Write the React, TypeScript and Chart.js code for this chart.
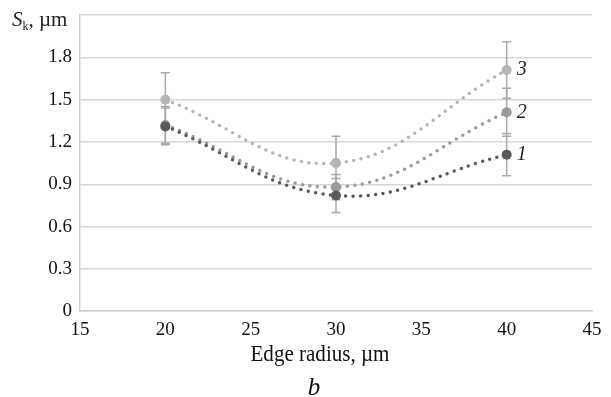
import React, { useEffect, useRef } from "react";
import { Chart, registerables } from "chart.js";

Chart.register(...registerables);

const edgeRadius = [20, 30, 40];
const series1 = [1.31, 0.82, 1.11];
const series2 = [1.32, 0.88, 1.41];
const series3 = [1.5, 1.05, 1.71];
const err1 = [0.13, 0.12, 0.15];
const err2 = [0.13, 0.09, 0.17];
const err3 = [0.19, 0.19, 0.2];
const seriesLabels = ["1", "2", "3"];
const yTicks = [0, 0.3, 0.6, 0.9, 1.2, 1.5, 1.8, 2.1];
const xTitle = "Edge radius, \u00b5m";
const panelLabel = "b";

const colors = ["#595959", "#9a9a9a", "#b5b5b5"];
const FONT = "'Liberation Serif', 'Times New Roman', serif";

export default function App() {
  const ref = useRef<HTMLCanvasElement | null>(null);

  useEffect(() => {
    document.body.style.margin = "0";
    const canvas = ref.current;
    if (!canvas) return;
    let chart: any = null;
    let cancelled = false;

    const values = [series1, series2, series3];
    const errs = [err1, err2, err3];

    const extras = {
      id: "extras",
      beforeDatasetsDraw(ch: any) {
        const ctx = ch.ctx;
        const xs = ch.scales.x;
        const ys = ch.scales.y;
        ctx.save();
        ctx.strokeStyle = "#a9a9a9";
        ctx.lineWidth = 1.5;
        values.forEach((vals, si) => {
          vals.forEach((v, i) => {
            const x = xs.getPixelForValue(edgeRadius[i]);
            const yT = ys.getPixelForValue(v + errs[si][i]);
            const yB = ys.getPixelForValue(v - errs[si][i]);
            ctx.beginPath();
            ctx.moveTo(x, yT);
            ctx.lineTo(x, yB);
            ctx.moveTo(x - 4.5, yT);
            ctx.lineTo(x + 4.5, yT);
            ctx.moveTo(x - 4.5, yB);
            ctx.lineTo(x + 4.5, yB);
            ctx.stroke();
          });
        });
        ctx.restore();
      },
      afterDraw(ch: any) {
        const ctx = ch.ctx;
        const xs = ch.scales.x;
        const ys = ch.scales.y;
        ctx.save();
        ctx.fillStyle = "#222";
        ctx.textBaseline = "middle";
        ctx.textAlign = "left";
        ctx.font = `italic 20px ${FONT}`;
        values.forEach((vals, si) => {
          const last = vals.length - 1;
          const x = xs.getPixelForValue(edgeRadius[last]) + 10;
          const y = ys.getPixelForValue(vals[last]);
          ctx.fillText(seriesLabels[si], x, y);
        });
        // y-axis title
        const baseY = 26;
        let x = 12;
        ctx.textBaseline = "alphabetic";
        ctx.font = `italic 21px ${FONT}`;
        ctx.fillText("S", x, baseY);
        x += ctx.measureText("S").width;
        ctx.font = `12px ${FONT}`;
        ctx.fillText("k", x, baseY + 4);
        x += ctx.measureText("k").width;
        ctx.font = `21px ${FONT}`;
        ctx.fillText(", \u00b5m", x, baseY);
        // x-axis title (slightly condensed) and panel label
        ctx.fillStyle = "#111";
        ctx.textAlign = "center";
        ctx.textBaseline = "alphabetic";
        ctx.font = `23px ${FONT}`;
        const w = ctx.measureText(xTitle).width;
        const sx = Math.min(1, 139 / w);
        ctx.save();
        ctx.translate(320, 361);
        ctx.scale(sx, 1);
        ctx.fillText(xTitle, 0, 0);
        ctx.restore();
        ctx.font = `italic 25px ${FONT}`;
        ctx.fillText(panelLabel, 314, 395);
        ctx.restore();
      },
    };

    const build = () => {
      if (cancelled) return;
      chart = new Chart(canvas, {
        type: "line",
        data: {
          datasets: values.map((vals, si) => ({
            label: seriesLabels[si],
            data: vals.map((v, i) => ({ x: edgeRadius[i], y: v })),
            borderColor: colors[si],
            backgroundColor: colors[si],
            borderWidth: 3.5,
            borderDash: [0, 7.5],
            borderCapStyle: "round",
            tension: 0.4,
            pointRadius: 5,
            pointBorderWidth: 0,
            pointBackgroundColor: colors[si],
            fill: false,
          })),
        },
        options: {
          animation: false,
          responsive: false,
          layout: { padding: { left: 0, right: 19, top: 15, bottom: 1 } },
          plugins: {
            legend: { display: false },
            tooltip: { enabled: false },
            title: {
              display: true,
              position: "bottom",
              text: panelLabel,
              color: "rgba(0,0,0,0)",
              font: { family: FONT, size: 21, style: "italic", weight: "normal" },
              padding: { top: 0, bottom: 0 },
            },
          },
          scales: {
            x: {
              type: "linear",
              min: 15,
              max: 45,
              ticks: {
                stepSize: 5,
                color: "#111",
                font: { family: FONT, size: 19 },
                padding: 7,
                maxRotation: 0,
              },
              grid: { display: false, drawTicks: false },
              border: { display: true, color: "#cfcfcf", width: 1.5 },
              title: {
                display: true,
                text: xTitle,
                color: "rgba(0,0,0,0)",
                font: { family: FONT, size: 19 },
                padding: { top: 0, bottom: 0 },
              },
            },
            y: {
              type: "linear",
              min: 0,
              max: 2.1,
              afterBuildTicks(axis: any) {
                axis.ticks = yTicks.map((v) => ({ value: v }));
              },
              afterFit(axis: any) {
                axis.width = 80;
                axis.paddingTop = 0;
                axis.paddingBottom = 0;
              },
              ticks: {
                color: "#111",
                font: { family: FONT, size: 19 },
                padding: 8,
                callback: (v: any) => {
                  const n = Number(v);
                  if (n > 2) return "";
                  return n === 0 ? "0" : n.toFixed(1);
                },
              },
              grid: { color: "#d6d6d6", lineWidth: 1.5, drawTicks: false },
              border: { display: true, color: "#cfcfcf", width: 1.5 },
            },
          },
        },
        plugins: [extras],
      } as any);
    };

    const fonts: any = (document as any).fonts;
    if (fonts && fonts.load) {
      Promise.all([
        fonts.load("19px 'Liberation Serif'"),
        fonts.load("italic 19px 'Liberation Serif'"),
      ])
        .catch(() => null)
        .then(build);
    } else {
      build();
    }

    return () => {
      cancelled = true;
      if (chart) chart.destroy();
    };
  }, []);

  return (
    <div style={{ width: 611, height: 397, background: "#fff" }}>
      <canvas ref={ref} width={611} height={397} style={{ display: "block" }} />
    </div>
  );
}
